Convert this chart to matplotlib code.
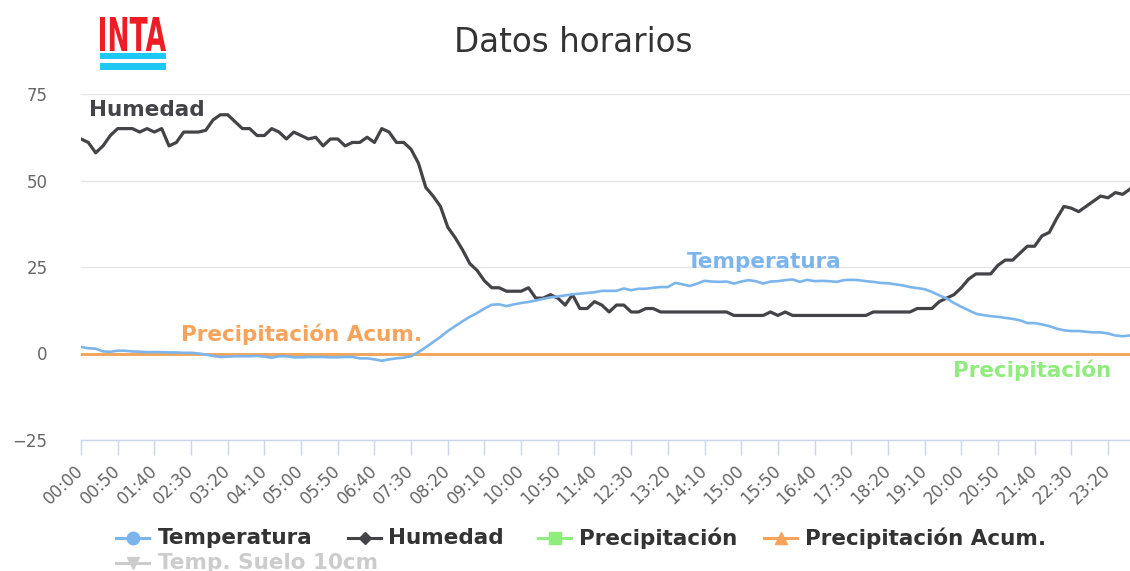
import matplotlib
matplotlib.use("Agg")
import matplotlib.pyplot as plt
from matplotlib.lines import Line2D
from matplotlib.patches import Rectangle, PathPatch
from matplotlib.textpath import TextPath
from matplotlib.font_manager import FontProperties
from matplotlib.transforms import Affine2D

# ---------------- data ----------------
horas = [f"{h:02d}:{m:02d}" for h in range(24) for m in range(0, 60, 10)]

temperatura = [
    1.9, 1.5, 1.4, 0.6, 0.5, 0.8, 0.8, 0.6, 0.5, 0.4,
    0.4, 0.4, 0.3, 0.3, 0.2, 0.2, 0.0, -0.3, -0.7, -1.0,
    -0.9, -0.8, -0.8, -0.8, -0.7, -0.9, -1.2, -0.8, -0.8, -1.1,
    -1.1, -1.0, -1.0, -1.0, -1.1, -1.1, -1.0, -1.0, -1.4, -1.4,
    -1.7, -2.1, -1.7, -1.4, -1.2, -0.8, 0.4, 1.8, 3.3, 4.8,
    6.5, 7.9, 9.3, 10.6, 11.7, 13.0, 14.1, 14.2, 13.7, 14.2,
    14.6, 14.9, 15.3, 15.8, 16.2, 16.5, 16.8, 17.1, 17.3, 17.5,
    17.7, 18.1, 18.1, 18.1, 18.8, 18.3, 18.7, 18.7, 19.0, 19.2,
    19.2, 20.4, 20.0, 19.5, 20.2, 21.0, 20.8, 20.7, 20.8, 20.2,
    20.8, 21.2, 20.9, 20.2, 20.8, 20.9, 21.2, 21.4, 20.7, 21.3,
    20.9, 21.0, 20.9, 20.7, 21.2, 21.3, 21.2, 20.9, 20.7, 20.4,
    20.3, 20.0, 19.7, 19.2, 18.9, 18.6, 17.8, 16.8, 15.9, 14.6,
    13.5, 12.5, 11.5, 11.1, 10.8, 10.6, 10.3, 10.0, 9.6, 8.8,
    8.8, 8.4, 7.9, 7.2, 6.7, 6.5, 6.5, 6.3, 6.1, 6.1,
    5.8, 5.2, 5.0, 5.2,
]

humedad = [
    62, 61, 58, 60, 63, 65, 65, 65, 64, 65,
    64, 65, 60, 61, 64, 64, 64, 64.5, 67.5, 69,
    69, 67, 65, 65, 63, 63, 65, 64, 62, 64,
    63, 62, 62.5, 60, 62, 62, 60, 61, 61, 62.5,
    61, 65, 64, 61, 61, 59, 55, 48, 45.5, 42.5,
    36.5, 33.5, 30, 26, 24, 21, 19, 19, 18, 18,
    18, 19, 16, 16, 17, 16, 14, 17, 13, 13,
    15, 14, 12, 14, 14, 12, 12, 13, 13, 12,
    12, 12, 12, 12, 12, 12, 12, 12, 12, 11,
    11, 11, 11, 11, 12, 11, 12, 11, 11, 11,
    11, 11, 11, 11, 11, 11, 11, 11, 12, 12,
    12, 12, 12, 12, 13, 13, 13, 15, 16, 17,
    19, 21.5, 23, 23, 23, 25.5, 27, 27, 29, 31,
    31, 34, 35, 39, 42.5, 42, 41, 42.5, 44, 45.5,
    45, 46.5, 46, 47.5,
]

precipitacion = [0.0] * 144
precipitacion_acum = [0.0] * 144

y_ticks = [-25, 0, 25, 50, 75]
y_labels = ["\u221225", "0", "25", "50", "75"]

series_names = ["Temperatura", "Humedad", "Precipitación", "Precipitación Acum.", "Temp. Suelo 10cm"]

# ---------------- style ----------------
C_TEMP = "#7cb5ec"
C_HUM = "#434348"
C_PREC = "#90ed7d"
C_ACUM = "#f7a35c"
C_HIDDEN = "#cccccc"
TXT = "#333333"
LAB = "#666666"

W, H = 1130, 571
fig = plt.figure(figsize=(W / 100, H / 100), dpi=100)
fig.patch.set_facecolor("white")

def fx(x):
    return x / W

def fy(y):
    return 1 - y / H

ax = fig.add_axes([fx(81), fy(440), (1130 - 81) / W, (440 - 94) / H])
x = list(range(len(horas)))

ax.plot(x, precipitacion, color=C_PREC, lw=2.0, zorder=3)
ax.plot(x, precipitacion_acum, color=C_ACUM, lw=2.0, zorder=4)
ax.plot(x, humedad, color=C_HUM, lw=2.3, zorder=5, solid_joinstyle="round")
ax.plot(x, temperatura, color=C_TEMP, lw=1.9, zorder=6, solid_joinstyle="round")

ax.set_xlim(0, len(horas) - 1)
ax.set_ylim(-25, 75)

for s in ["top", "right", "left"]:
    ax.spines[s].set_visible(False)
ax.spines["bottom"].set_color("#ccd6eb")
ax.spines["bottom"].set_linewidth(1)

ax.set_yticks(y_ticks)
ax.set_yticklabels(y_labels, fontsize=12, color=LAB)
ax.tick_params(axis="y", length=0, pad=24)
ax.yaxis.grid(True, color="#e6e6e6", lw=1)
ax.set_axisbelow(True)

xt = x[::5]
ax.set_xticks(xt)
ax.set_xticklabels([horas[i] for i in xt], rotation=44, ha="right", va="center",
                   rotation_mode="anchor", fontsize=12, color=LAB)
ax.tick_params(axis="x", length=11, width=1, color="#ccd6eb", pad=9)

# series labels
lab_kw = dict(fontsize=15.5, fontweight="bold", ha="center", va="center", zorder=10)
ax.text(9.0, 70.3, "Humedad", color=C_HUM, **lab_kw)
ax.text(30.0, 5.6, "Precipitación Acum.", color=C_ACUM, **lab_kw)
ax.text(93.2, 26.4, "Temperatura", color=C_TEMP, **lab_kw)
ax.text(129.6, -4.8, "Precipitación", color=C_PREC, **lab_kw)

# title
fig.text(fx(573), fy(43), "Datos horarios", fontsize=23.5, color=TXT, ha="center", va="center")

# INTA logo
fp = FontProperties(family="DejaVu Sans", weight="bold")
tp = TextPath((0, 0), "INTA", prop=fp, size=10)
bb = tp.get_extents()
sx = (166 - 100) / bb.width
sy = (51 - 17) / bb.height
tr = Affine2D().translate(-bb.x0, -bb.y0).scale(sx / W, sy / H).translate(fx(100), fy(51))
fig.add_artist(PathPatch(tp, transform=tr + fig.transFigure, color="#ee1c25", lw=0))
fig.add_artist(Rectangle((fx(100), fy(59)), 66 / W, 6 / H, transform=fig.transFigure,
                         color="#1ec8f2", lw=0))
fig.add_artist(Rectangle((fx(100), fy(70)), 66 / W, 7 / H, transform=fig.transFigure,
                         color="#1ec8f2", lw=0))

# legend (manual)
leg_items = [
    (116, 158, 538, C_TEMP, "o", series_names[0], TXT),
    (348, 388, 538, C_HUM, "D", series_names[1], TXT),
    (538, 579, 538, C_PREC, "s", series_names[2], TXT),
    (764, 805, 538, C_ACUM, "^", series_names[3], TXT),
    (116, 158, 563, C_HIDDEN, "v", series_names[4], C_HIDDEN),
]
for (lx, tx, ly, col, mk, name, tcol) in leg_items:
    ms = 9 if mk == "o" else (6 if mk == "D" else 8)
    fig.add_artist(Line2D([fx(lx), fx(lx + 33)], [fy(ly), fy(ly)], transform=fig.transFigure,
                          color=col, lw=2.2))
    fig.add_artist(Line2D([fx(lx + 16.5)], [fy(ly)], transform=fig.transFigure,
                          color=col, marker=mk, markersize=ms, lw=0))
    fig.text(fx(tx), fy(ly), name, fontsize=15.5, fontweight="bold", color=tcol,
             ha="left", va="center")

fig.savefig("out.png", dpi=100, facecolor="white")
